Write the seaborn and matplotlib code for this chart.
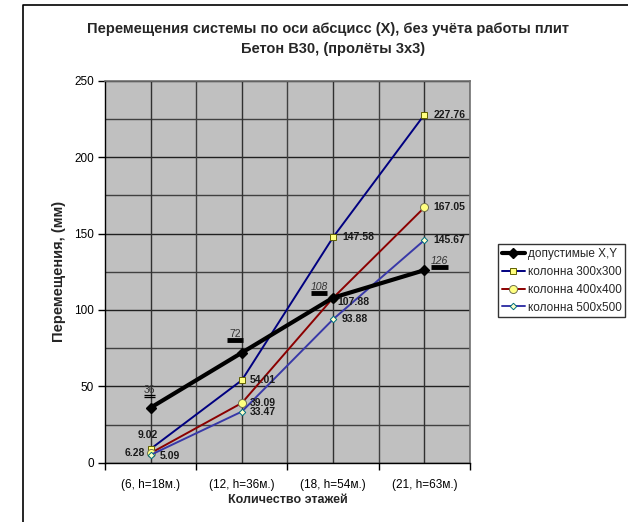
import matplotlib
matplotlib.use("Agg")
import matplotlib.pyplot as plt
import matplotlib.transforms as mtransforms
from matplotlib.lines import Line2D
import seaborn as sns
import pandas as pd

# Storeys / building height for each calculation case
categories = ["(6, h=18м.)", "(12, h=36м.)", "(18, h=54м.)", "(21, h=63м.)"]

# Horizontal displacements along X, mm
allowed_xy = [36, 72, 108, 126]
col_300 = [9.02, 54.01, 147.58, 227.76]
col_400 = [6.28, 39.09, 107.88, 167.05]
col_500 = [5.09, 33.47, 93.88, 145.67]

series_names = ["допустимые X,Y", "колонна 300х300", "колонна 400х400", "колонна 500х500"]
y_ticks = [0, 50, 100, 150, 200, 250]

sns.set_theme(style="white")
plt.rcParams["font.family"] = ["Liberation Sans", "DejaVu Sans"]

fig = plt.figure(figsize=(6.28, 5.22), dpi=100)
ax = fig.add_axes([0.1672, 0.1136, 0.5812, 0.7318])
ax.set_facecolor("#C0C0C0")

pos = list(range(len(categories)))
values = {
    series_names[0]: allowed_xy,
    series_names[1]: col_300,
    series_names[2]: col_400,
    series_names[3]: col_500,
}
styles = {
    series_names[0]: dict(color="black", lw=3.0, marker="D", ms=5.5, mfc="black", mec="black", mew=1),
    series_names[1]: dict(color="#000080", lw=1.4, marker="s", ms=4.2, mfc="#FFFF80", mec="#606000", mew=0.7),
    series_names[2]: dict(color="#8B0000", lw=1.4, marker="o", ms=5.8, mfc="#FFFF80", mec="#707050", mew=0.7),
    series_names[3]: dict(color="#3838A8", lw=1.4, marker="D", ms=3.3, mfc="#FFFFCC", mec="#007080", mew=0.7),
}

# grid: every 25 mm horizontally, category centres and boundaries vertically
for v in range(0, 251, 25):
    ax.axhline(v, color="#202020" if v % 50 == 0 else "#404040", lw=1.0, zorder=0.5)
for k in range(len(categories)):
    ax.axvline(k, color="#303030", lw=1.0, zorder=0.5)
    ax.axvline(k + 0.5, color="#404040", lw=1.0, zorder=0.5)

for name in series_names[1:] + series_names[:1]:
    df = pd.DataFrame({"x": pos, "y": values[name]})
    st = styles[name]
    sns.lineplot(data=df, x="x", y="y", ax=ax, color=st["color"], lw=st["lw"],
                 marker=st["marker"], markersize=st["ms"], markerfacecolor=st["mfc"],
                 markeredgecolor=st["mec"], markeredgewidth=st["mew"], zorder=3,
                 label=name)

ax.set_xlim(-0.5, len(categories) - 0.5)
ax.set_ylim(0, 250)
ax.set_yticks(y_ticks)
ax.set_yticklabels([str(t) for t in y_ticks], fontsize=8.5, color="black")
ax.set_xticks([k - 0.5 for k in range(len(categories) + 1)])
ax.set_xticklabels([])
ax.set_xticks(pos, minor=True)
ax.set_xticklabels(categories, minor=True, fontsize=8.5, color="black")
ax.tick_params(axis="x", which="major", direction="out", length=5, width=1, color="black", bottom=True)
ax.tick_params(axis="x", which="minor", length=0, pad=12)
ax.tick_params(axis="y", which="major", direction="out", length=5, width=1, color="black", left=True, pad=3)

for side in ["left", "bottom"]:
    ax.spines[side].set_color("black")
    ax.spines[side].set_linewidth(1.0)
for side in ["top", "right"]:
    ax.spines[side].set_color("#707070")
    ax.spines[side].set_linewidth(1.2)

ax.set_xlabel("Количество этажей", fontsize=9, fontweight="bold", labelpad=2)
ax.set_ylabel("Перемещения, (мм)", fontsize=10.5, fontweight="bold", labelpad=6)

# value labels next to the column series points (offsets in pixels)
lab_offsets = {
    series_names[1]: [(-3, 14, "center"), (8, 0, "left"), (9, 0, "left"), (9, 0, "left")],
    series_names[2]: [(-6, 0, "right"), (8, 0, "left"), (4, -4, "left"), (9, 0, "left")],
    series_names[3]: [(9, -1, "left"), (8, 0, "left"), (9, 0, "left"), (9, 0, "left")],
}
for name, offs in lab_offsets.items():
    for x, y, (dx, dy, ha) in zip(pos, values[name], offs):
        ax.annotate(f"{y:.2f}", (x, y), xytext=(dx, dy), textcoords="offset pixels",
                    ha=ha, va="center", fontsize=7.5, fontweight="bold", color="#1a1a1a",
                    zorder=5)

# labels of the allowable displacement line, each with a bar underneath
allowed_offsets = [(-1, 18, False), (-7, 19, False), (-14, 11, True), (15, 9, True)]
for x, y, (dx, dy, italic) in zip(pos, allowed_xy, allowed_offsets):
    ax.annotate(str(y), (x, y), xytext=(dx, dy), textcoords="offset pixels",
                ha="center", va="center", fontsize=7.5, color="#333333",
                style="italic" if italic else "normal", zorder=5)
    if y == allowed_xy[0]:
        for ddy in (-5, -7):
            tr = mtransforms.offset_copy(ax.transData, fig=fig, x=dx, y=dy + ddy, units="dots")
            ax.plot([x - 0.06, x + 0.06], [y, y], color="black", lw=0.9, transform=tr,
                    solid_capstyle="butt", zorder=5)
    else:
        tr = mtransforms.offset_copy(ax.transData, fig=fig, x=dx, y=dy - 6, units="dots")
        ax.plot([x - 0.09, x + 0.09], [y, y], color="black", lw=3.5, transform=tr,
                solid_capstyle="butt", zorder=5)

handles, labels_ = ax.get_legend_handles_labels()
order = [labels_.index(n) for n in series_names]
if ax.get_legend():
    ax.get_legend().remove()
leg = fig.legend([handles[i] for i in order], [labels_[i] for i in order],
                 loc="upper left", bbox_to_anchor=(0.793, 0.532), fontsize=8.5,
                 frameon=True, fancybox=False, handlelength=2.0, handletextpad=0.2,
                 borderpad=0.3, labelspacing=0.5, borderaxespad=0)
leg.get_frame().set_edgecolor("black")
leg.get_frame().set_linewidth(1.0)

fig.text(0.523, 0.945, "Перемещения системы по оси абсцисс (X), без учёта работы плит",
         ha="center", va="center", fontsize=10.5, fontweight="bold")
fig.text(0.530, 0.907, "Бетон В30, (пролёты 3х3)",
         ha="center", va="center", fontsize=10.5, fontweight="bold")

# outer chart frame (left and top edges)
fig.add_artist(Line2D([22.5 / 628, 22.5 / 628, 1.0], [0.0, 1 - 4.5 / 522, 1 - 4.5 / 522],
                      transform=fig.transFigure, color="black", lw=1.2))

fig.savefig("out.png", dpi=100)
